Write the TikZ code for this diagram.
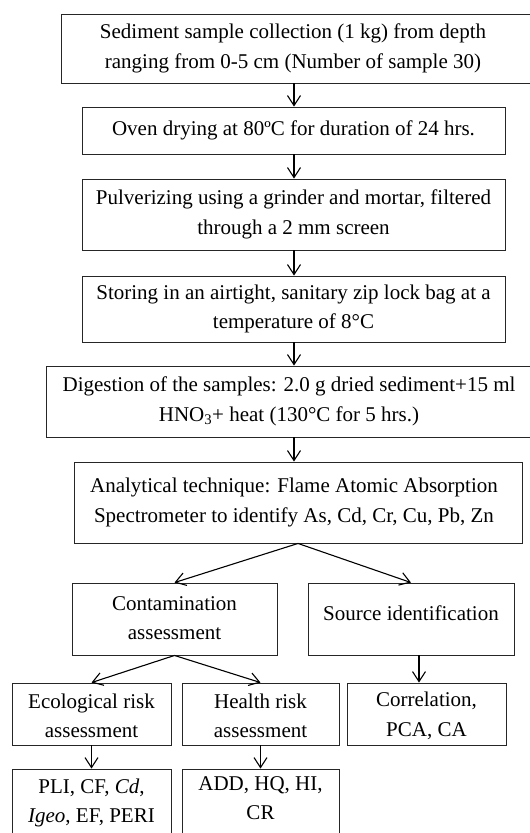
\documentclass[tikz,border=0pt]{standalone}
\usepackage{fontspec}
\setmainfont{Liberation Serif}
\usetikzlibrary{arrows.meta}
\begin{document}
\begin{tikzpicture}[x=1pt,y=1pt,
  box/.style={draw=black!85, line width=0.9pt, rectangle, inner sep=0pt},
  txt/.style={align=center, font=\fontsize{21}{29.5}\selectfont, inner sep=0pt},
  arr/.style={line width=1.1pt, -{Straight Barb[length=10pt,width=13pt,line width=1.1pt]}}
]
\useasboundingbox (0,0) rectangle (530,-833);
\fill[white] (0,0) rectangle (530,-833);

\node[box, minimum width=474pt, minimum height=69pt,
  label={[txt, xshift=-5pt]center:{Sediment sample collection (1 kg) from depth\\ranging from 0-5 cm (Number of sample 30)}}] (b1) at (298,-48.5) {};
\node[box, minimum width=423pt, minimum height=47pt,
  label={[txt]center:{Oven drying at 80ºC for duration of 24 hrs.}}] (b2) at (293.5,-130.5) {};
\node[box, minimum width=423pt, minimum height=71pt,
  label={[txt]center:{Pulverizing using a grinder and mortar, filtered\\through a 2 mm screen}}] (b3) at (293.5,-214.5) {};
\node[box, minimum width=423pt, minimum height=66pt,
  label={[txt]center:{Storing in an airtight, sanitary zip lock bag at a\\temperature of 8°C}}] (b4) at (293.5,-309) {};
\node[box, minimum width=486pt, minimum height=71pt,
  label={[txt]center:{Digestion of the samples: 2.0 g dried sediment+15 ml\\HNO\textsubscript{3}+ heat (130°C for 5 hrs.)}}] (b5) at (289,-401.5) {};
\node[box, minimum width=448pt, minimum height=81pt,
  label={[txt, xshift=-4pt]center:{Analytical technique: Flame Atomic Absorption\\Spectrometer to identify As, Cd, Cr, Cu, Pb, Zn}}] (b6) at (298,-502.5) {};
\node[box, minimum width=205pt, minimum height=72pt,
  label={[txt, yshift=1pt]center:{Contamination\\assessment}}] (b7) at (174.5,-619) {};
\node[box, minimum width=206pt, minimum height=72pt,
  label={[txt, yshift=6pt]center:{Source identification}}] (b8) at (411,-619) {};
\node[box, minimum width=159pt, minimum height=62pt,
  label={[txt, yshift=-2pt]center:{Ecological risk\\assessment}}] (b9) at (91.5,-714) {};
\node[box, minimum width=157pt, minimum height=62pt,
  label={[txt, yshift=-2pt]center:{Health risk\\assessment}}] (b10) at (260.5,-714) {};
\node[box, minimum width=159pt, minimum height=62pt,
  label={[txt, yshift=-2pt]center:{Correlation,\\PCA, CA}}] (b11) at (426.5,-714) {};
\node[box, minimum width=159pt, minimum height=68pt,
  label={[txt]center:{PLI, CF, \textit{Cd},\\\textit{Igeo}, EF, PERI}}] (b12) at (91.5,-803) {};
\node[box, minimum width=157pt, minimum height=80pt,
  label={[txt, yshift=11pt]center:{ADD, HQ, HI,\\CR}}] (b13) at (260.5,-809) {};

\coordinate (spine) at (294,0);
\coordinate (srcx) at (419,0);
\draw[arr] (b1.south -| spine) -- (b2.north -| spine);
\draw[arr] (b2.south -| spine) -- (b3.north -| spine);
\draw[arr] (b3.south -| spine) -- (b4.north -| spine);
\draw[arr] (b4.south -| spine) -- (b5.north -| spine);
\draw[arr] (b5.south -| spine) -- (b6.north -| spine);
\draw[arr] (b6.south) -- (b7.north);
\draw[arr] (b6.south) -- (b8.north);
\draw[arr] (b7.south) -- (b9.north);
\draw[arr] (b7.south) -- (b10.north);
\draw[arr] (b8.south -| srcx) -- (b11.north -| srcx);
\draw[arr] (b9.south) -- (b12.north);
\draw[arr] (b10.south) -- (b13.north);
\end{tikzpicture}
\end{document}
